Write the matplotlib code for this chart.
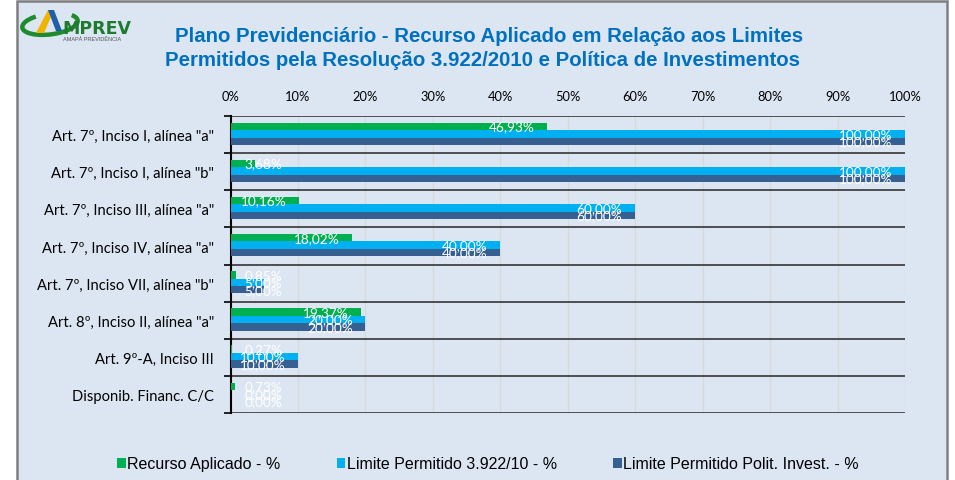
import matplotlib
matplotlib.use("Agg")
import matplotlib.pyplot as plt
from matplotlib.patches import Rectangle, Arc, Polygon

# data
categorias = ['Art. 7º, Inciso I, alínea "a"',
              'Art. 7º, Inciso I, alínea "b"',
              'Art. 7º, Inciso III, alínea "a"',
              'Art. 7º, Inciso IV, alínea "a"',
              'Art. 7º, Inciso VII, alínea "b"',
              'Art. 8º, Inciso II, alínea "a"',
              'Art. 9º-A, Inciso III',
              'Disponib. Financ. C/C']
recurso = [46.93, 3.68, 10.16, 18.02, 0.85, 19.37, 0.27, 0.73]
limite_res = [100.00, 100.00, 60.00, 40.00, 5.00, 20.00, 10.00, 0.00]
limite_pol = [100.00, 100.00, 60.00, 40.00, 5.00, 20.00, 10.00, 0.00]
series_nomes = ['Recurso Aplicado - %', 'Limite Permitido 3.922/10 - %',
                'Limite Permitido Polit. Invest. - %']
cores = ['#00B050', '#00B0F0', '#376092']
xticks = list(range(0, 101, 10))

bg = '#DCE6F2'
fig = plt.figure(figsize=(9.55, 4.81), dpi=100)
fig.patch.set_facecolor('white')
# chart area box
fig.patches.append(Rectangle((17/955, -0.01), (947-17)/955, 1 - 2/481 + 0.01,
                             transform=fig.transFigure, facecolor=bg,
                             edgecolor='#7F7F7F', linewidth=1.8, zorder=-10))

ax = fig.add_axes([230.5/955, 1 - 414/481, (905-230.5)/955, (414-117)/481])
ax.set_facecolor(bg)

h = 0.2
offs = [-h - 0.02, -0.02, h - 0.02]
ypos = list(range(len(categorias)))
bars = []
for k, vals in enumerate([recurso, limite_res, limite_pol]):
    yy = [y + offs[k] for y in ypos]
    b = ax.barh(yy, vals, height=h, color=cores[k], label=series_nomes[k], zorder=3)
    bars.append(b)
    for y, v in zip(yy, vals):
        txt = f'{v:.2f}%'.replace('.', ',')
        if v >= 9:
            ax.text(v - 1.9, y, txt, ha='right', va='center', color='white',
                    fontsize=9.8, family='Lato', zorder=4)
        else:
            ax.text(2.1, y, txt, ha='left', va='center', color='white',
                    fontsize=9.8, family='Lato', zorder=4)

ax.set_xlim(0, 100)
ax.set_ylim(len(categorias) - 0.5, -0.5)
ax.set_xticks(xticks)
ax.set_xticklabels([f'{t}%' for t in xticks], fontsize=9.3, family='Lato')
ax.xaxis.tick_top()
ax.tick_params(axis='x', length=0, pad=10)
ax.grid(axis='x', color='#D9D9D9', linewidth=1, zorder=1)

# category boundaries as black lines
ax.set_yticks([y - 0.5 for y in ypos] + [len(categorias) - 0.5])
ax.set_yticklabels([])
ax.set_yticks(ypos, minor=True)
ax.set_yticklabels(categorias, minor=True, fontsize=10.6, family='Lato')
ax.tick_params(axis='y', which='minor', length=0, pad=12)
ax.tick_params(axis='y', which='major', length=5, width=1.2, color='black')
for y in range(len(categorias) + 1):
    ax.axhline(y - 0.5, color='#262626', linewidth=1.1, zorder=2)

for s in ['top', 'right', 'bottom']:
    ax.spines[s].set_visible(False)
ax.spines['left'].set_linewidth(1.5)
ax.spines['left'].set_color('black')

# title
fig.text(489.5/955, 1 - 37/481, 'Plano Previdenciário - Recurso Aplicado em Relação aos Limites',
         ha='center', va='center', fontsize=14.7, fontweight='bold', color='#0070C0',
         family='Liberation Sans')
fig.text(482/955, 1 - 60/481, 'Permitidos pela Resolução 3.922/2010 e Política de Investimentos',
         ha='center', va='center', fontsize=14.7, fontweight='bold', color='#0070C0',
         family='Liberation Sans')

# logo (approximation)
fig.patches.append(Arc((50/955, 1 - 25/481), 58/955, 20/481, angle=24, theta1=110, theta2=375,
                       transform=fig.transFigure, edgecolor='#1E8B2E', linewidth=3.2, zorder=2))
fig.patches.append(Polygon([(36/955, 1 - 34/481), (44/955, 1 - 34/481),
                            (54/955, 1 - 11/481), (48/955, 1 - 11/481)],
                           closed=True, transform=fig.transFigure,
                           facecolor='#F0B400', edgecolor='none', zorder=3))
fig.patches.append(Polygon([(48/955, 1 - 11/481), (54/955, 1 - 11/481),
                            (62/955, 1 - 32/481), (56/955, 1 - 32/481)],
                           closed=True, transform=fig.transFigure,
                           facecolor='#1F5FA8', edgecolor='none', zorder=3))
fig.text(62/955, 1 - 29/481, 'MPREV', fontsize=12.5, fontweight='bold', color='#1E7A2E',
         family='DejaVu Sans', ha='left', va='center')
fig.text(63/955, 1 - 39/481, 'AMAPÁ PREVIDÊNCIA', fontsize=4, color='#555555',
         family='Liberation Sans', ha='left', va='center')

# legend
leg = fig.legend(handles=bars, labels=series_nomes, loc='center',
                 bbox_to_anchor=(0.511, 1 - 465/481), ncol=3, frameon=False,
                 handlelength=0.55, handleheight=0.55, handletextpad=0.1,
                 columnspacing=3.5, prop={'family': 'Liberation Sans', 'size': 11.5})

fig.savefig('out.png', dpi=100, facecolor=fig.get_facecolor())
